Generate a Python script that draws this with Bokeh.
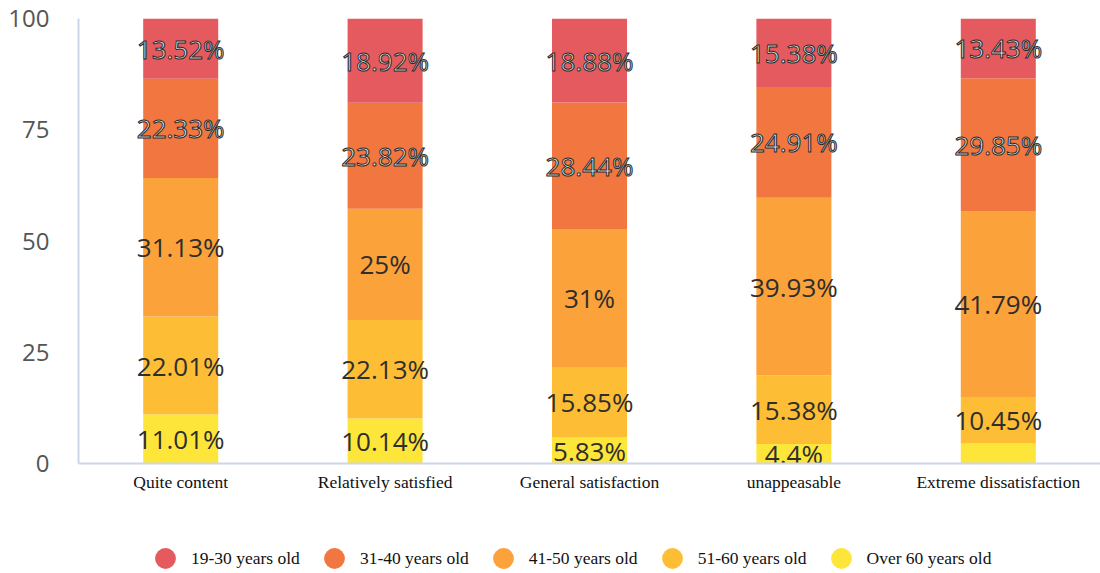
from bokeh.plotting import figure
from bokeh.layouts import column
from bokeh.models import ColumnDataSource, FactorRange, Range1d, FixedTicker, Legend, LegendItem
from bokeh.embed import file_html
from bokeh.resources import INLINE
from bokeh.core.properties import value

categories = ["Quite content", "Relatively satisfied", "General satisfaction",
              "unappeasable", "Extreme dissatisfaction"]
series = ["19-30 years old", "31-40 years old", "41-50 years old",
          "51-60 years old", "Over 60 years old"]
colors = ["#E55A5E", "#F27640", "#FCA23A", "#FDBE36", "#FDE639"]

age_19_30 = [13.52, 18.92, 18.88, 15.38, 13.43]
age_31_40 = [22.33, 23.82, 28.44, 24.91, 29.85]
age_41_50 = [31.13, 25, 31, 39.93, 41.79]
age_51_60 = [22.01, 22.13, 15.85, 15.38, 10.45]
age_over_60 = [11.01, 10.14, 5.83, 4.4, 4.48]
y_ticks = [0, 25, 50, 75, 100]
# labels the original chart does not show (overlap)
hidden_labels = [("Extreme dissatisfaction", "Over 60 years old")]

values = {
    "19-30 years old": age_19_30,
    "31-40 years old": age_31_40,
    "41-50 years old": age_41_50,
    "51-60 years old": age_51_60,
    "Over 60 years old": age_over_60,
}
# stack from bottom to top
stack_order = series[::-1]
stack_colors = colors[::-1]

data = {"cat": categories}
data.update(values)
source = ColumnDataSource(data)

p = figure(x_range=FactorRange(*categories), y_range=Range1d(0, 100),
           width=1100, height=500, output_backend="svg", toolbar_location=None,
           min_border_left=78, min_border_right=0, min_border_top=18,
           min_border_bottom=37)

p.vbar_stack(stack_order, x="cat", width=0.367, color=stack_colors,
             line_color=None, source=source)

# segment labels
plain = {"x": [], "y": [], "text": []}
outlined = {"x": [], "y": [], "text": []}
for i, cat in enumerate(categories):
    base = 0.0
    for s in stack_order:
        v = values[s][i]
        mid = base + v / 2
        base += v
        if (cat, s) in hidden_labels:
            continue
        target = outlined if s in ("19-30 years old", "31-40 years old") else plain
        target["x"].append(cat)
        target["y"].append(mid)
        target["text"].append(f"{v:g}%")

p.text(x="x", y="y", text="text", source=ColumnDataSource(plain),
       text_align="center", text_baseline="middle",
       text_font=value("Open Sans"), text_font_size="26px", text_color="#2E2E2E")
p.text(x="x", y="y", text="text", source=ColumnDataSource(outlined),
       text_align="center", text_baseline="middle",
       text_font=value("Open Sans"), text_font_size="26px", text_color="#E6E6E6",
       text_outline_color="#2A2A2A")

axis_color = "#CCD6EB"
p.xaxis.axis_line_color = axis_color
p.xaxis.axis_line_width = 2
p.xaxis.major_tick_line_color = None
p.xaxis.minor_tick_line_color = None
p.xaxis.major_label_text_font = "Liberation Serif"
p.xaxis.major_label_text_font_size = "17.5px"
p.xaxis.major_label_text_color = "#111111"
p.xaxis.major_label_standoff = 2

p.yaxis.ticker = FixedTicker(ticks=y_ticks)
p.yaxis.axis_line_color = axis_color
p.yaxis.axis_line_width = 2
p.yaxis.major_tick_line_color = None
p.yaxis.minor_tick_line_color = None
p.yaxis.major_label_text_font = "Open Sans"
p.yaxis.major_label_text_font_size = "24px"
p.yaxis.major_label_text_color = "#555555"
p.yaxis.major_label_standoff = 23

p.xgrid.grid_line_color = None
p.ygrid.grid_line_color = None
p.outline_line_color = None

# legend strip (proxy markers with NaN positions: only the legend shows them)
lf = figure(width=1100, height=73, output_backend="svg", toolbar_location=None,
            x_range=Range1d(0, 1), y_range=Range1d(0, 1),
            x_axis_type=None, y_axis_type=None,
            min_border_left=0, min_border_right=0, min_border_top=0, min_border_bottom=0)
lf.outline_line_color = None
lf.xgrid.grid_line_color = None
lf.ygrid.grid_line_color = None
nan = float("nan")
legend_src = ColumnDataSource(dict(x=[nan] * len(series), y=[nan] * len(series),
                                   color=colors, label=series))
r = lf.scatter(x="x", y="y", marker="circle", size=22, fill_color="color",
               line_color=None, source=legend_src)
items = [LegendItem(label=s, renderers=[r], index=i) for i, s in enumerate(series)]
legend = Legend(items=items, orientation="horizontal", location=(61, -11),
                margin=0, padding=0, spacing=8, label_standoff=0,
                glyph_width=52, glyph_height=52,
                label_text_font="Liberation Serif", label_text_font_size="17.5px",
                label_text_color="#111111", border_line_color=None,
                background_fill_alpha=0)
lf.add_layout(legend)

layout = column(p, lf, spacing=0)
open("out.html", "w").write(file_html(layout, INLINE))
